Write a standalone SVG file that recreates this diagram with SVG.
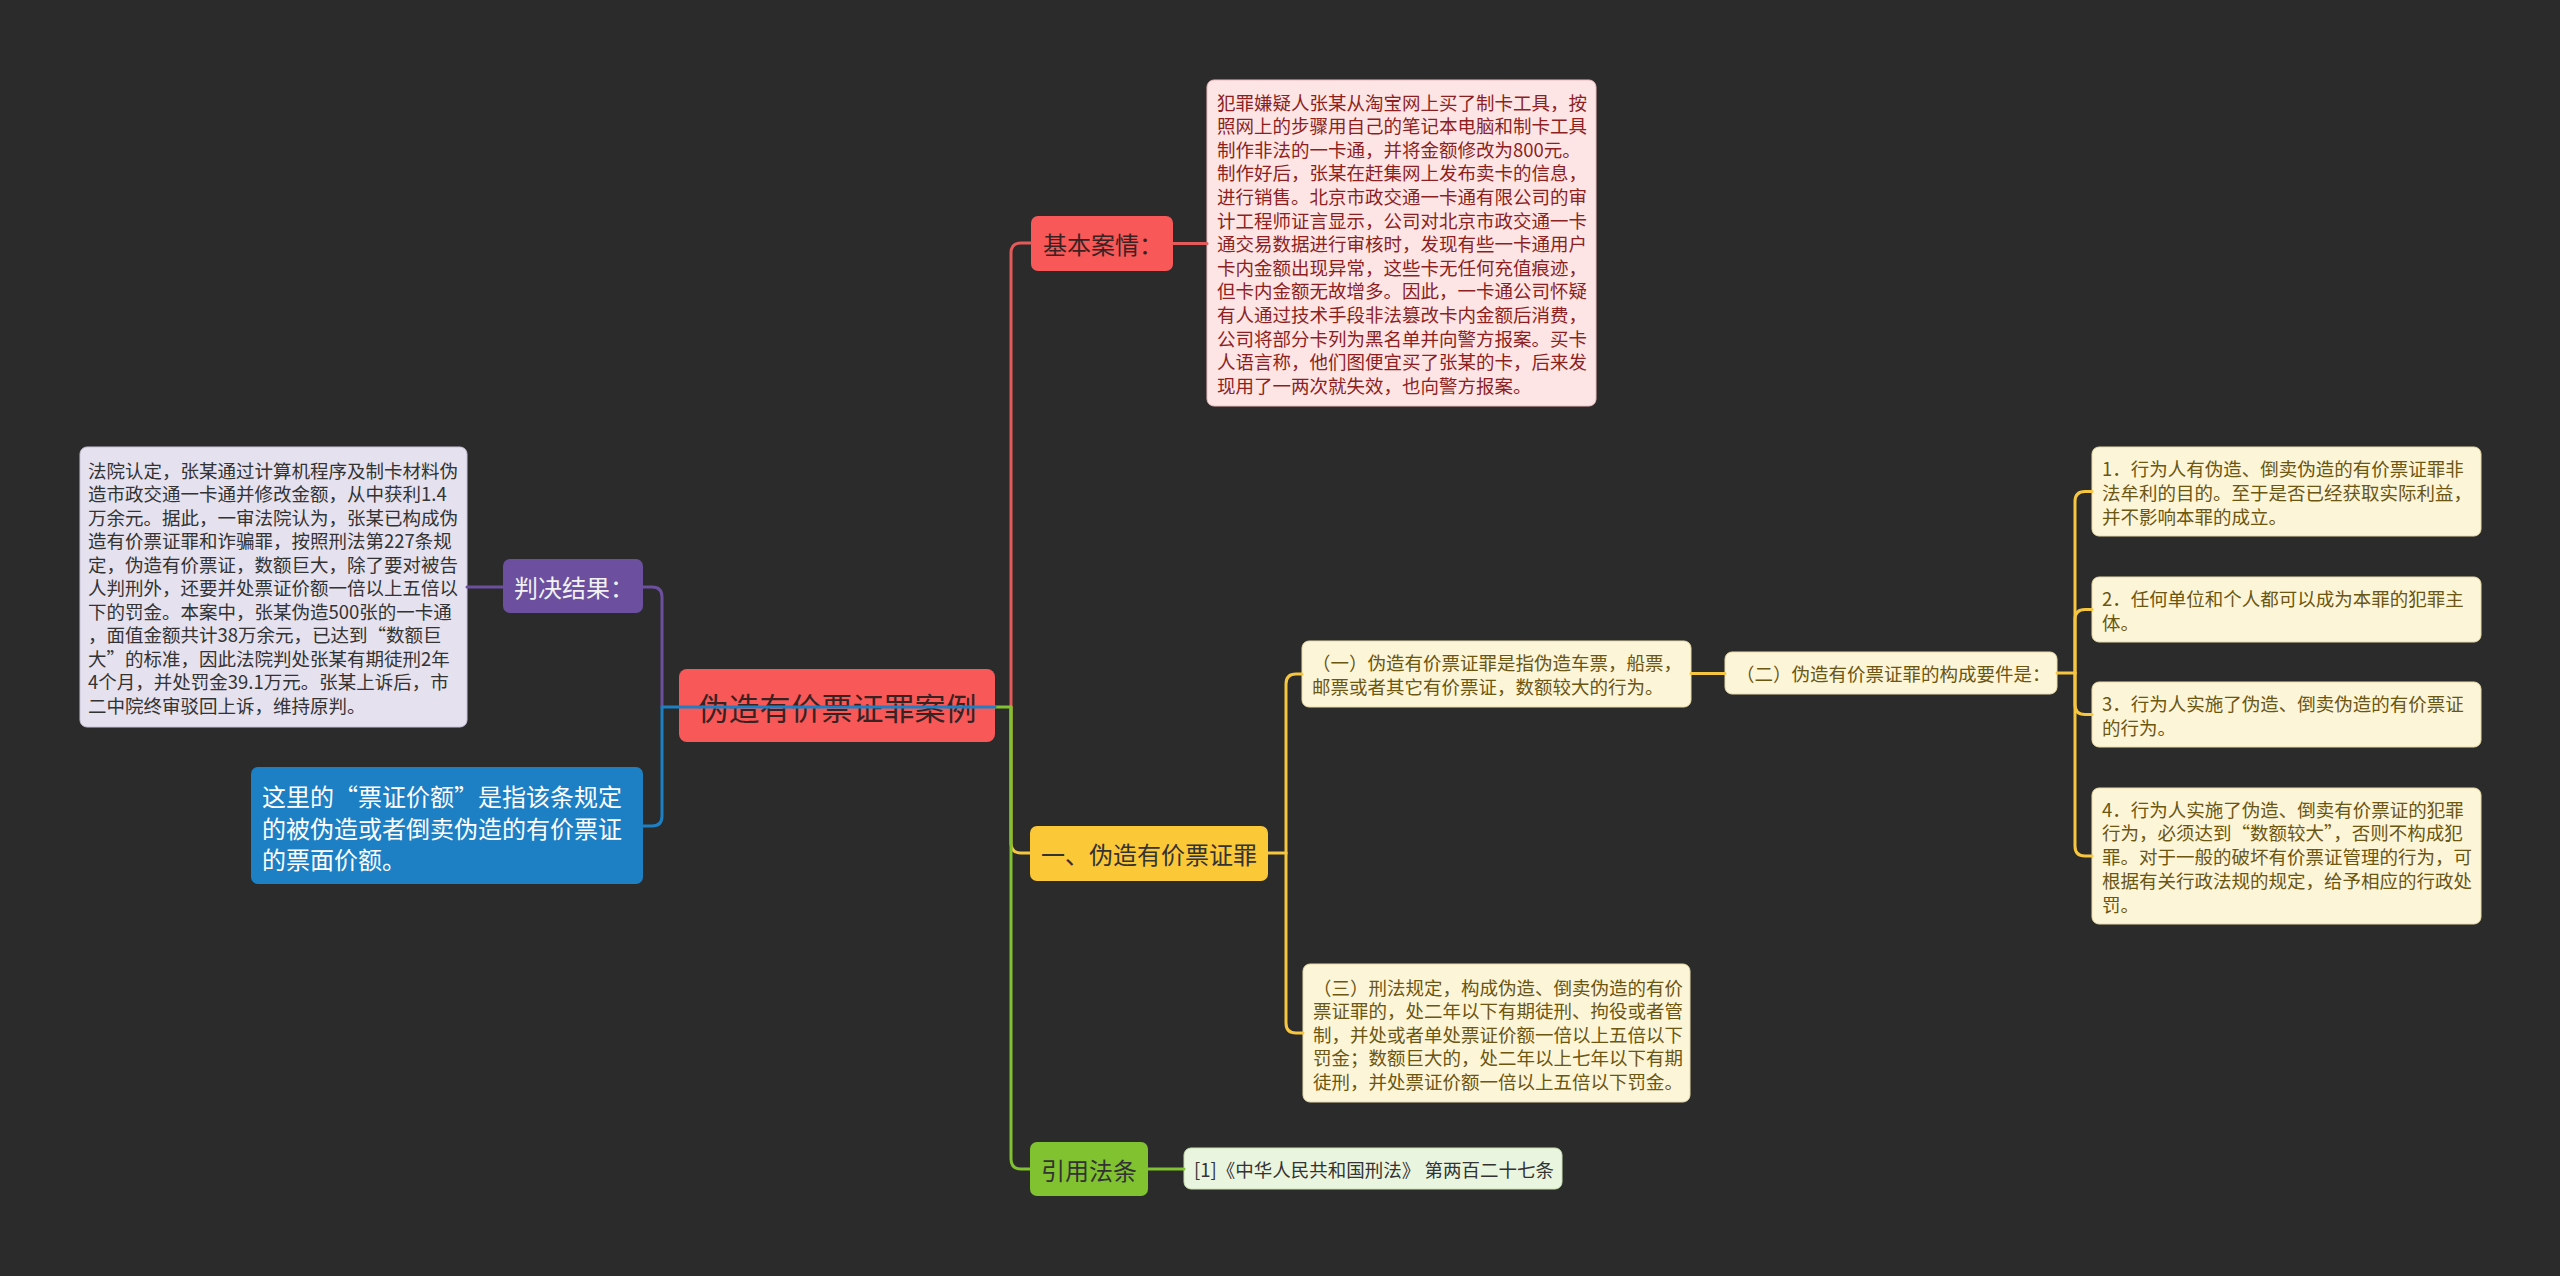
<svg xmlns="http://www.w3.org/2000/svg" width="2560" height="1276" viewBox="0 0 2560 1276">
<style>
text{font-family:"Noto Sans CJK SC","Noto Sans",sans-serif;dominant-baseline:central}
.t{font-size:18.5px}
.l1{font-size:24px}
.c{fill:none;stroke-width:3;stroke-linecap:round;stroke-linejoin:round}
.red{stroke:#e35a5a}.pur{stroke:#6c4f9e}.blu{stroke:#1d80c4}.yel{stroke:#f6c640}.grn{stroke:#80c22f}
.cream{fill:#fdf5d8;stroke:#e9dca8;stroke-width:1}
.ct{fill:#6b5612}
</style>
<rect x="0" y="0" width="2560" height="1276" fill="#2b2b2b"/>

<g id="root">
<rect x="679" y="669" width="316" height="73" rx="8" fill="#f85858"/>
<text x="837" y="706" font-size="31" text-anchor="middle" fill="#3a2222">伪造有价票证罪案例</text>
</g>

<g id="n-jiben">
<rect x="1031" y="216" width="142" height="55" rx="7" fill="#f85858"/>
<text class="l1" x="1043" y="243.5" fill="#3a2222">基本案情：</text>
</g>

<g id="n-jiben-text">
<rect x="1207" y="80" width="389" height="326" rx="7" fill="#fde5e5" stroke="#f0bcbc" stroke-width="1"/>
<text class="t" fill="#8c1f1f">
<tspan x="1217" y="101.5">犯罪嫌疑人张某从淘宝网上买了制卡工具，按</tspan>
<tspan x="1217" y="125.1">照网上的步骤用自己的笔记本电脑和制卡工具</tspan>
<tspan x="1217" y="148.7">制作非法的一卡通，并将金额修改为800元。</tspan>
<tspan x="1217" y="172.3">制作好后，张某在赶集网上发布卖卡的信息，</tspan>
<tspan x="1217" y="195.9">进行销售。北京市政交通一卡通有限公司的审</tspan>
<tspan x="1217" y="219.5">计工程师证言显示，公司对北京市政交通一卡</tspan>
<tspan x="1217" y="243.1">通交易数据进行审核时，发现有些一卡通用户</tspan>
<tspan x="1217" y="266.7">卡内金额出现异常，这些卡无任何充值痕迹，</tspan>
<tspan x="1217" y="290.3">但卡内金额无故增多。因此，一卡通公司怀疑</tspan>
<tspan x="1217" y="313.9">有人通过技术手段非法篡改卡内金额后消费，</tspan>
<tspan x="1217" y="337.5">公司将部分卡列为黑名单并向警方报案。买卡</tspan>
<tspan x="1217" y="361.1">人语言称，他们图便宜买了张某的卡，后来发</tspan>
<tspan x="1217" y="384.7">现用了一两次就失效，也向警方报案。</tspan>
</text>
</g>

<g id="n-panjue">
<rect x="503" y="559" width="140" height="54" rx="7" fill="#6c4f9e"/>
<text class="l1" x="514" y="586" fill="#f2f2f2">判决结果：</text>
</g>

<g id="n-panjue-text">
<rect x="80" y="447" width="387" height="280" rx="7" fill="#e5e1ee" stroke="#c9c3d8" stroke-width="1"/>
<text class="t" fill="#333333">
<tspan x="88" y="469.5">法院认定，张某通过计算机程序及制卡材料伪</tspan>
<tspan x="88" y="493">造市政交通一卡通并修改金额，从中获利1.4</tspan>
<tspan x="88" y="516.5">万余元。据此，一审法院认为，张某已构成伪</tspan>
<tspan x="88" y="540">造有价票证罪和诈骗罪，按照刑法第227条规</tspan>
<tspan x="88" y="563.5">定，伪造有价票证，数额巨大，除了要对被告</tspan>
<tspan x="88" y="587">人判刑外，还要并处票证价额一倍以上五倍以</tspan>
<tspan x="88" y="610.5">下的罚金。本案中，张某伪造500张的一卡通</tspan>
<tspan x="88" y="634">，面值金额共计38万余元，已达到“数额巨</tspan>
<tspan x="88" y="657.5">大”的标准，因此法院判处张某有期徒刑2年</tspan>
<tspan x="88" y="681">4个月，并处罚金39.1万元。张某上诉后，市</tspan>
<tspan x="88" y="704.5">二中院终审驳回上诉，维持原判。</tspan>
</text>
</g>

<g id="n-note">
<rect x="251" y="767" width="392" height="117" rx="7" fill="#1d80c4"/>
<text class="l1" fill="#ffffff">
<tspan x="262" y="795">这里的“票证价额”是指该条规定</tspan>
<tspan x="262" y="826.5">的被伪造或者倒卖伪造的有价票证</tspan>
<tspan x="262" y="858">的票面价额。</tspan>
</text>
</g>

<g id="n-yi">
<rect x="1030" y="826" width="238" height="55" rx="7" fill="#fbc838"/>
<text class="l1" x="1041" y="853" fill="#333333">一、伪造有价票证罪</text>
</g>

<g id="n-yi-1">
<rect x="1302" y="641" width="389" height="66" rx="7" class="cream"/>
<text class="t ct">
<tspan x="1312" y="662">（一）伪造有价票证罪是指伪造车票，船票，</tspan>
<tspan x="1312" y="686">邮票或者其它有价票证，数额较大的行为。</tspan>
</text>
</g>

<g id="n-yi-2">
<rect x="1725" y="652" width="332" height="42" rx="7" class="cream"/>
<text class="t ct" x="1736" y="673">（二）伪造有价票证罪的构成要件是：</text>
</g>

<g id="n-yi-3">
<rect x="1303" y="964" width="387" height="138" rx="7" class="cream"/>
<text class="t ct">
<tspan x="1313" y="986.5">（三）刑法规定，构成伪造、倒卖伪造的有价</tspan>
<tspan x="1313" y="1010.1">票证罪的，处二年以下有期徒刑、拘役或者管</tspan>
<tspan x="1313" y="1033.7">制，并处或者单处票证价额一倍以上五倍以下</tspan>
<tspan x="1313" y="1057.3">罚金；数额巨大的，处二年以上七年以下有期</tspan>
<tspan x="1313" y="1080.9">徒刑，并处票证价额一倍以上五倍以下罚金。</tspan>
</text>
</g>

<g id="n-req-1">
<rect x="2092" y="447" width="389" height="89" rx="7" class="cream"/>
<text class="t ct">
<tspan x="2102" y="468">1．行为人有伪造、倒卖伪造的有价票证罪非</tspan>
<tspan x="2102" y="491.8">法牟利的目的。至于是否已经获取实际利益，</tspan>
<tspan x="2102" y="515.6">并不影响本罪的成立。</tspan>
</text>
</g>

<g id="n-req-2">
<rect x="2092" y="577" width="389" height="65" rx="7" class="cream"/>
<text class="t ct">
<tspan x="2102" y="598">2．任何单位和个人都可以成为本罪的犯罪主</tspan>
<tspan x="2102" y="621.8">体。</tspan>
</text>
</g>

<g id="n-req-3">
<rect x="2092" y="682" width="389" height="65" rx="7" class="cream"/>
<text class="t ct">
<tspan x="2102" y="703">3．行为人实施了伪造、倒卖伪造的有价票证</tspan>
<tspan x="2102" y="726.8">的行为。</tspan>
</text>
</g>

<g id="n-req-4">
<rect x="2092" y="788" width="389" height="136" rx="7" class="cream"/>
<text class="t ct">
<tspan x="2102" y="808.5">4．行为人实施了伪造、倒卖有价票证的犯罪</tspan>
<tspan x="2102" y="832.3">行为，必须达到“数额较大”，否则不构成犯</tspan>
<tspan x="2102" y="856.1">罪。对于一般的破坏有价票证管理的行为，可</tspan>
<tspan x="2102" y="879.9">根据有关行政法规的规定，给予相应的行政处</tspan>
<tspan x="2102" y="903.7">罚。</tspan>
</text>
</g>

<g id="n-law">
<rect x="1030" y="1142" width="118" height="54" rx="7" fill="#80c22f"/>
<text class="l1" x="1041" y="1169" fill="#333333">引用法条</text>
</g>

<g id="n-law-text">
<rect x="1184" y="1148" width="378" height="41" rx="7" fill="#eaf5df" stroke="#c8e0b0" stroke-width="1"/>
<text class="t" x="1194" y="1168.5" fill="#333333">[1]《中华人民共和国刑法》 第两百二十七条</text>
</g>

<g id="connectors">
<path class="c red" d="M1011 707 V253 Q1011 243 1021 243 H1031"/>
<path class="c red" d="M1173 243.5 H1207"/>
<path class="c yel" d="M1011 707 V843 Q1011 853 1021 853 H1030"/>
<path class="c grn" d="M995 707 H1011 V1159 Q1011 1169 1021 1169 H1030"/>
<path class="c grn" d="M1148 1169 H1184"/>
<path class="c pur" d="M662 707 V597 Q662 587 652 587 H643"/>
<path class="c pur" d="M503 587 H467"/>
<path class="c blu" d="M995 707 H662 V816 Q662 826 652 826 H643"/>
<path class="c yel" d="M1268 853 H1286"/>
<path class="c yel" d="M1286 853 V684 Q1286 674 1296 674 H1302"/>
<path class="c yel" d="M1286 853 V1023 Q1286 1033 1296 1033 H1303"/>
<path class="c yel" d="M1691 673.5 H1725"/>
<path class="c yel" d="M2057 673 H2075"/>
<path class="c yel" d="M2075 673 V501.5 Q2075 491.5 2085 491.5 H2092"/>
<path class="c yel" d="M2075 673 V619.5 Q2075 609.5 2085 609.5 H2092"/>
<path class="c yel" d="M2075 673 V704.5 Q2075 714.5 2085 714.5 H2092"/>
<path class="c yel" d="M2075 673 V846 Q2075 856 2085 856 H2092"/>
</g>
</svg>
